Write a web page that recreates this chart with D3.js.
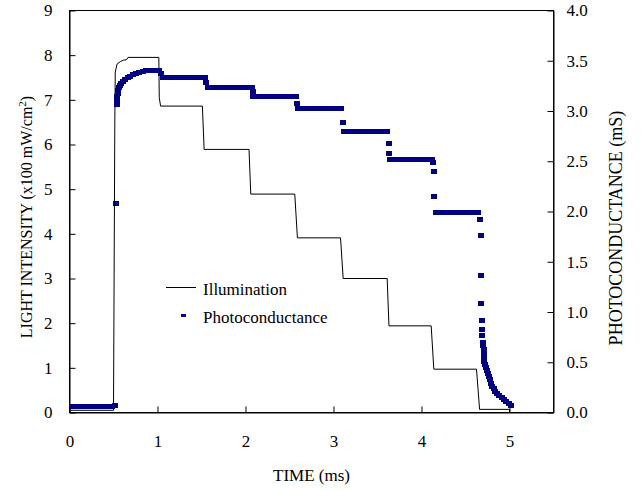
<!DOCTYPE html>
<html>
<head>
<meta charset="utf-8">
<script src="https://cdn.jsdelivr.net/npm/d3@7"></script>
<style>
  body { margin: 0; background: #fff; }
  svg { display: block; }
  text { font-family: "Liberation Serif", "Times New Roman", serif; fill: #000; }
</style>
</head>
<body>
<div id="chart"></div>
<script>
// tick values
const timeTicks = [0, 1, 2, 3, 4, 5];
const lightTicks = [0, 1, 2, 3, 4, 5, 6, 7, 8, 9];
const condTicks = [0, 0.5, 1.0, 1.5, 2.0, 2.5, 3.0, 3.5, 4.0];

// Illumination (x100 mW/cm2) vs time (ms)
const illumT = [0, 0.50, 0.515, 0.52, 0.54, 0.58, 0.615, 0.65, 0.665, 1.015, 1.02, 1.035,
  1.51, 1.53, 2.04, 2.06, 2.56, 2.59, 3.08, 3.11, 3.61, 3.63, 4.11, 4.14, 4.625, 4.66, 5.00, 5.00];
const illumV = [0.05, 0.05, 6.5, 7.62, 7.80, 7.86, 7.89, 7.90, 7.95, 7.95, 7.05, 6.86,
  6.86, 5.89, 5.89, 4.89, 4.89, 3.91, 3.91, 3.00, 3.00, 1.94, 1.94, 0.97, 0.97, 0.07, 0.07, 0.00];

// Photoconductance (mS) vs time (ms)
const photoT = [
  0.03, 0.08, 0.13, 0.18, 0.23, 0.28, 0.33, 0.38, 0.43, 0.48, 0.52,
  0.534, 0.535, 0.537, 0.54, 0.548, 0.555, 0.565, 0.575, 0.59, 0.61, 0.635, 0.66, 0.69, 0.72, 0.75, 0.79, 0.83, 0.87, 0.92, 0.97, 1.015, 1.04,
  1.06, 1.11, 1.16, 1.21, 1.26, 1.31, 1.36, 1.41, 1.46, 1.51, 1.54, 1.555,
  1.57, 1.62, 1.67, 1.72, 1.77, 1.82, 1.87, 1.92, 1.97, 2.02, 2.07, 2.08,
  2.09, 2.14, 2.19, 2.24, 2.29, 2.34, 2.39, 2.44, 2.49, 2.54, 2.57, 2.585,
  2.60, 2.65, 2.70, 2.75, 2.80, 2.85, 2.90, 2.95, 3.00, 3.05, 3.09, 3.105,
  3.12, 3.17, 3.22, 3.27, 3.32, 3.37, 3.42, 3.47, 3.52, 3.57, 3.61, 3.625, 3.63,
  3.645, 3.69, 3.74, 3.79, 3.84, 3.89, 3.94, 3.99, 4.04, 4.09, 4.12, 4.13, 4.14, 4.145,
  4.16, 4.21, 4.26, 4.31, 4.36, 4.41, 4.46, 4.51, 4.56, 4.61, 4.64,
  4.66, 4.68, 4.68, 4.68, 4.685, 4.685, 4.69, 4.695, 4.70, 4.705, 4.708, 4.71, 4.715, 4.72, 4.73,
  4.745, 4.755, 4.765, 4.778, 4.79, 4.805, 4.82, 4.84, 4.86, 4.885, 4.91, 4.935, 4.96, 4.99, 5.02
];
const photoG = [
  0.055, 0.055, 0.055, 0.055, 0.055, 0.055, 0.055, 0.055, 0.055, 0.055, 0.07,
  2.08, 3.06, 3.10, 3.14, 3.17, 3.20, 3.23, 3.25, 3.27, 3.29, 3.31, 3.33, 3.345, 3.36, 3.37, 3.385, 3.395, 3.40, 3.40, 3.40, 3.40, 3.37,
  3.33, 3.33, 3.33, 3.33, 3.33, 3.33, 3.33, 3.33, 3.33, 3.33, 3.33, 3.28,
  3.23, 3.23, 3.23, 3.23, 3.23, 3.23, 3.23, 3.23, 3.23, 3.23, 3.23, 3.19,
  3.145, 3.145, 3.145, 3.145, 3.145, 3.145, 3.145, 3.145, 3.145, 3.145, 3.145, 3.07,
  3.02, 3.02, 3.02, 3.02, 3.02, 3.02, 3.02, 3.02, 3.02, 3.02, 3.02, 2.89,
  2.80, 2.80, 2.80, 2.80, 2.80, 2.80, 2.80, 2.80, 2.80, 2.80, 2.80, 2.675, 2.58,
  2.52, 2.52, 2.52, 2.52, 2.52, 2.52, 2.52, 2.52, 2.52, 2.52, 2.52, 2.49, 2.40, 2.145,
  1.99, 1.99, 1.99, 1.99, 1.99, 1.99, 1.99, 1.99, 1.99, 1.99, 1.99,
  1.92, 1.76, 1.36, 1.08, 0.92, 0.83, 0.77, 0.70, 0.665, 0.63, 0.585, 0.535, 0.505, 0.48, 0.45,
  0.42, 0.39, 0.36, 0.325, 0.29, 0.26, 0.235, 0.21, 0.19, 0.17, 0.15, 0.13, 0.11, 0.09, 0.07
];

const W = 642, H = 490;
const plot = { left: 69.5, right: 553.5, top: 10.5, bottom: 412.5 };

const svg = d3.select("#chart").append("svg")
  .attr("width", W)
  .attr("height", H);

const x = d3.scaleLinear().domain([0, 5.5]).range([plot.left, plot.right]);
const yL = d3.scaleLinear().domain([0, 9]).range([plot.bottom, plot.top]);
const yR = d3.scaleLinear().domain([0, 4]).range([plot.bottom, plot.top]);

// frame
svg.append("rect")
  .attr("x", plot.left).attr("y", plot.top)
  .attr("width", plot.right - plot.left).attr("height", plot.bottom - plot.top)
  .attr("fill", "none").attr("stroke", "#000").attr("stroke-width", 1);

// axes (ticks inside)
const xAxis = svg.append("g")
  .attr("transform", "translate(0," + plot.bottom + ")")
  .call(d3.axisBottom(x).tickValues(timeTicks).tickFormat(d3.format("d"))
    .tickSizeInner(-6).tickSizeOuter(0).tickPadding(22));

const yAxisL = svg.append("g")
  .attr("transform", "translate(" + plot.left + ",0)")
  .call(d3.axisLeft(yL).tickValues(lightTicks).tickFormat(d3.format("d"))
    .tickSizeInner(-6).tickSizeOuter(0).tickPadding(17));

const yAxisR = svg.append("g")
  .attr("transform", "translate(" + plot.right + ",0)")
  .call(d3.axisRight(yR).tickValues(condTicks).tickFormat(d3.format(".1f"))
    .tickSizeInner(-6).tickSizeOuter(0).tickPadding(13));

[xAxis, yAxisL, yAxisR].forEach(g => {
  g.select(".domain").attr("stroke", "#000");
  g.selectAll(".tick line").attr("stroke", "#000");
  g.selectAll(".tick text")
    .attr("font-family", "Liberation Serif, serif")
    .attr("font-size", 17)
    .attr("fill", "#000");
});

// Illumination line
const illum = illumT.map((t, i) => ({ t: t, v: illumV[i] }));
svg.append("path")
  .datum(illum)
  .attr("fill", "none")
  .attr("stroke", "#000")
  .attr("stroke-width", 1)
  .attr("d", d3.line().x(d => x(d.t)).y(d => yL(d.v)));

// Photoconductance markers
const photo = photoT.map((t, i) => ({ t: t, g: photoG[i] }));
const mw = 6, mh = 5;
svg.append("g")
  .attr("fill", "#000080")
  .attr("shape-rendering", "crispEdges")
  .selectAll("rect")
  .data(photo)
  .enter().append("rect")
    .attr("x", d => Math.round(x(d.t) - mw / 2))
    .attr("y", d => Math.round(yR(d.g) - mh / 2))
    .attr("width", mw)
    .attr("height", mh);

// axis titles
svg.append("text")
  .attr("text-anchor", "middle")
  .attr("font-size", 17)
  .attr("x", (plot.left + plot.right) / 2)
  .attr("y", 481)
  .text("TIME (ms)");

const lt = svg.append("text")
  .attr("text-anchor", "middle")
  .attr("font-size", 16)
  .attr("transform", "translate(32,217) rotate(-90)");
lt.append("tspan").text("LIGHT INTENSITY (x100 mW/cm");
lt.append("tspan").attr("baseline-shift", "super").attr("font-size", 11).text("2");
lt.append("tspan").text(")");

svg.append("text")
  .attr("text-anchor", "middle")
  .attr("font-size", 18)
  .attr("transform", "translate(622,228) rotate(-90)")
  .text("PHOTOCONDUCTANCE (mS)");

// legend
const legX = 166, legY = 287.5;
svg.append("line")
  .attr("x1", legX).attr("x2", legX + 30)
  .attr("y1", legY).attr("y2", legY)
  .attr("stroke", "#000").attr("stroke-width", 1);
svg.append("text")
  .attr("x", legX + 37).attr("y", legY + 7.5)
  .attr("font-size", 17)
  .text("Illumination");
svg.append("rect")
  .attr("x", legX + 15).attr("y", legY + 26.5)
  .attr("width", 5).attr("height", 3)
  .attr("fill", "#000080");
svg.append("text")
  .attr("x", legX + 37).attr("y", legY + 35.5)
  .attr("font-size", 17)
  .text("Photoconductance");
</script>
</body>
</html>
